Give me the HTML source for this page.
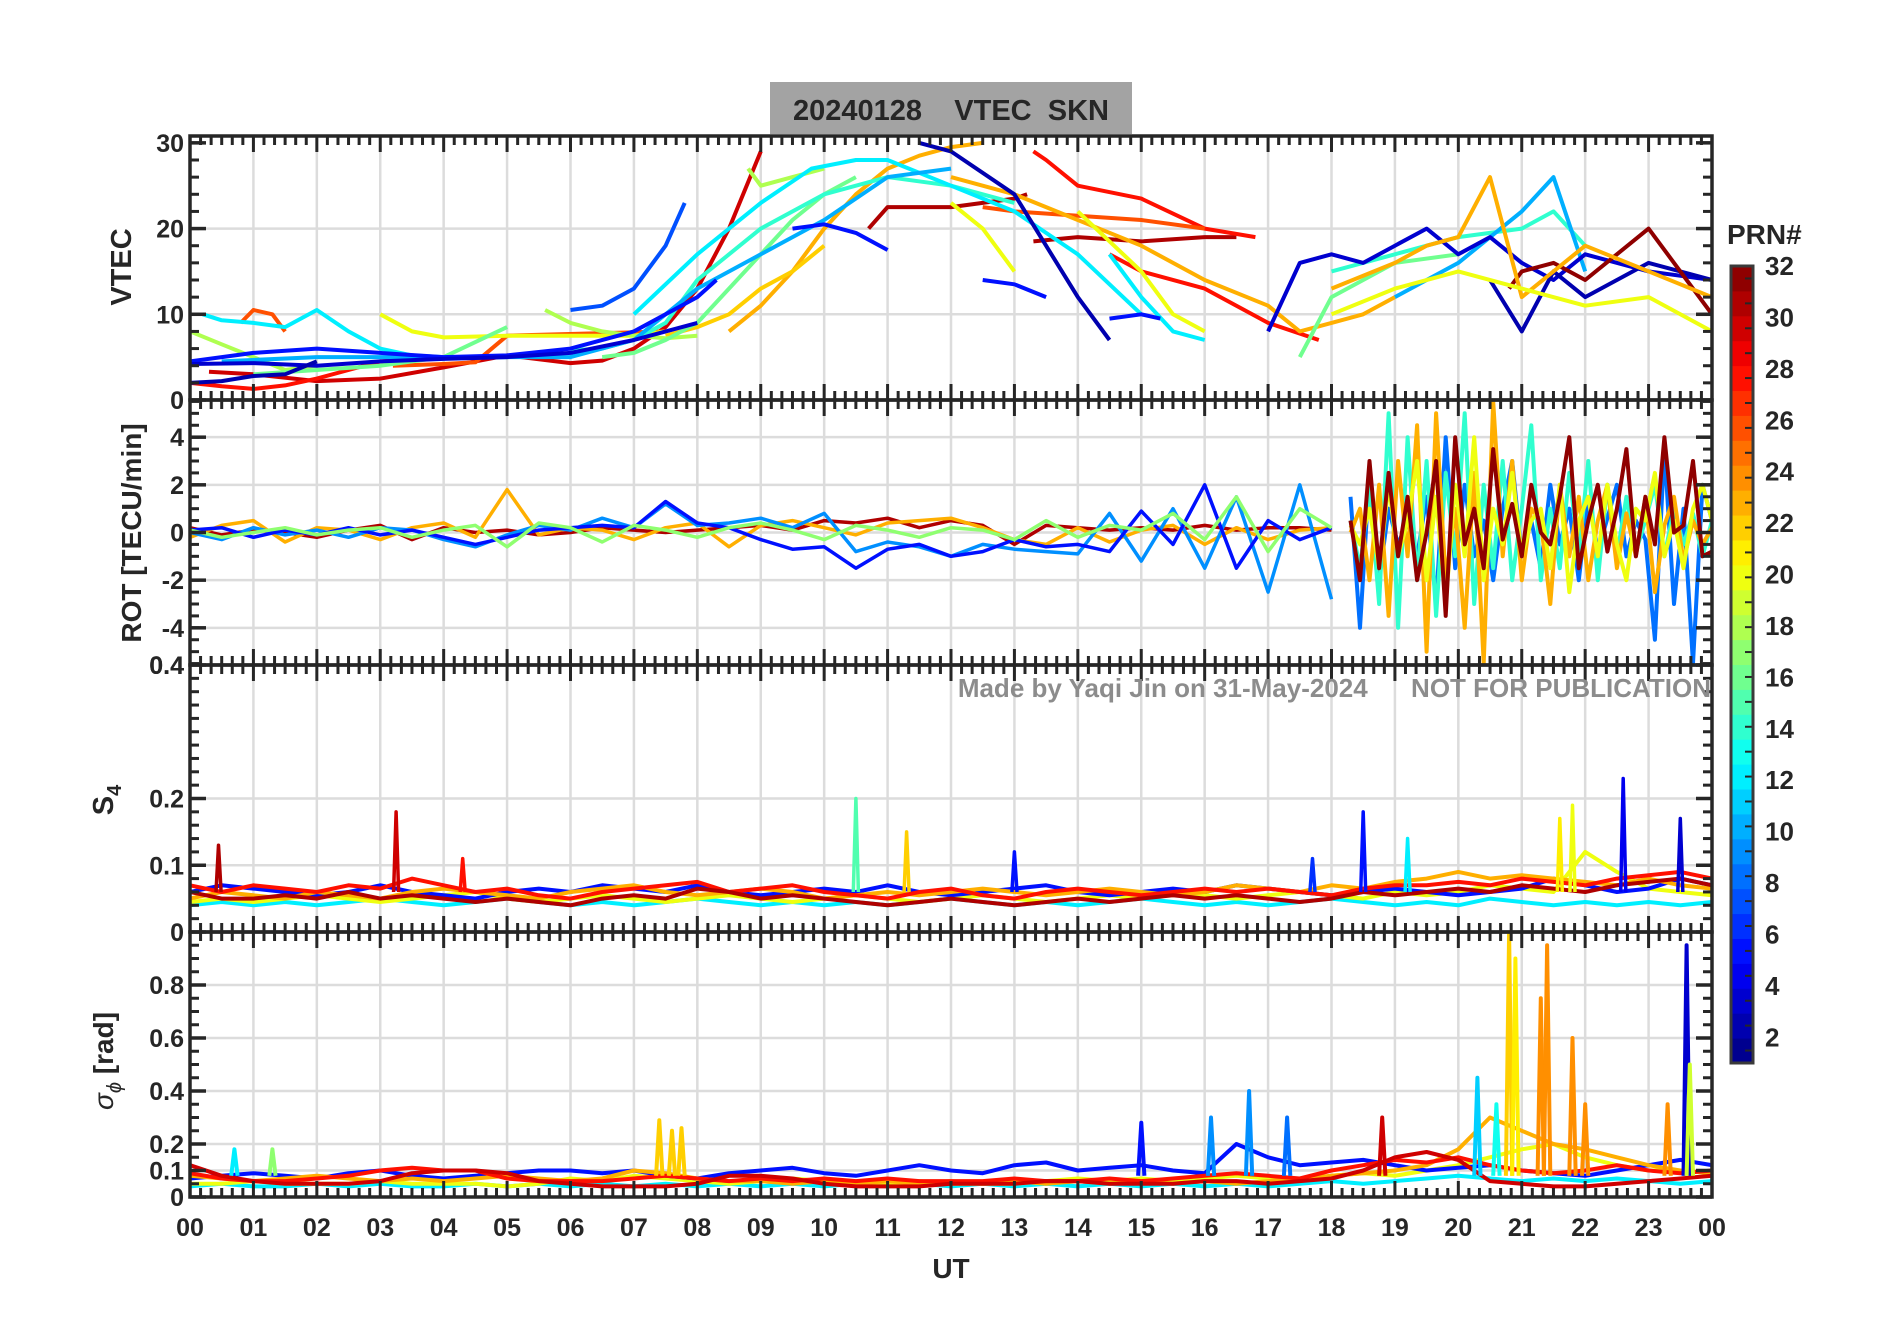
<!DOCTYPE html>
<html><head><meta charset="utf-8"><style>
html,body{margin:0;padding:0;background:#fff;}
svg text{font-family:"Liberation Sans",Arial,sans-serif;font-weight:bold;fill:#262626;}
</style></head><body>
<svg id="fig" xmlns="http://www.w3.org/2000/svg" width="1902" height="1330" viewBox="0 0 1902 1330">
<rect x="0" y="0" width="1902" height="1330" fill="#fff"/>
<rect x="770" y="82" width="362" height="52" fill="#a3a3a3"/>
<text x="951" y="120" font-size="29" text-anchor="middle" xml:space="preserve">20240128    VTEC  SKN</text>
<g id="layer"></g>
<text x="951" y="1278" font-size="28" text-anchor="middle">UT</text>
<text transform="translate(131,267) rotate(-90)" font-size="29" text-anchor="middle">VTEC</text>
<text transform="translate(141,533) rotate(-90)" font-size="28" text-anchor="middle">ROT [TECU/min]</text>
<text transform="translate(113,800) rotate(-90)" font-size="29" text-anchor="middle">S<tspan font-size="20" dy="8">4</tspan></text>
<text transform="translate(113,1061) rotate(-90)" font-size="28" text-anchor="middle"><tspan font-style="italic" font-weight="normal">σ</tspan><tspan font-size="20" dy="8" font-style="italic" font-weight="normal">ϕ</tspan><tspan dy="-8"> [rad]</tspan></text>
<text x="1711" y="697" font-size="26" text-anchor="end" style="fill:#8c8c8c" xml:space="preserve">Made by Yaqi Jin on 31-May-2024      NOT FOR PUBLICATION</text>
<g id="cbar"></g>
<text x="1727" y="244" font-size="28">PRN#</text>
</svg>
<script>
// ---------- data ----------
const hourLabels = ["00","01","02","03","04","05","06","07","08","09","10","11","12","13","14","15","16","17","18","19","20","21","22","23","00"];
const prnTicks = [2,4,6,8,10,12,14,16,18,20,22,24,26,28,30,32];
const vtecPrn = [30,31,31,28,28,28,26,26,26,23,23,22,20,20,20,18,18,18,16,16,16,14,14,12,12,12,10,10,7,5,5,5,5,3,3,2,2,2,32,23,20];
const vtecT = [
 [0.3,1,2,3,4,5,6,6.5,7,7.5,8,8.5,9],
 [10.7,11,12,13,13.2],
 [13.3,14,15,16,16.5],
 [0,0.5,1,1.5,2,2.5,3,3.5],
 [13.3,13.5,14,15,16,16.8],
 [14.5,15,16,17,17.8],
 [0.8,1,1.3,1.5],
 [3.2,4,4.5,5,7.5],
 [12.5,13,14,15,16],
 [8.5,9,9.5,10,10.5,11,11.5,12,12.5],
 [12,13,14,15,16,17,17.5,18,18.5,19],
 [7.5,8,8.5,9,9.5,10],
 [3,3.5,4,5,6,7,7.5],
 [12,12.5,13],
 [14,15,15.5,16],
 [0,0.5,1,1.5,2],
 [5.6,6,6.5,7,7.5,8],
 [8.8,9,9.5,10],
 [1,2,3,4,5],
 [6.5,7,7.5,8,8.5,9,9.5,10,10.5],
 [17.5,18,19,20],
 [6,6.5,7,7.5,8,9,10,11,12,13],
 [18,19,20,21,21.5,22],
 [0.2,0.5,1,1.5,2,2.5,3,3.5,4,5],
 [7,8,9,9.8,10.5,11,12,13,14,15],
 [14.5,15,15.5,16],
 [0.5,2,4,6,7,7.5,8,9,10,11,12],
 [19,20,21,21.5,22],
 [6,6.5,7,7.5,7.8],
 [0,1,2,3,4,5,6,7,7.5,8,8.3],
 [9.5,10,10.5,11],
 [12.5,13,13.5],
 [14.5,15,15.3],
 [0,1,2,3,4,5,6,7,8],
 [17,17.5,18,18.5,19,19.5,20,20.5,21,21.5,22,23,24],
 [0,0.5,1,1.5,2],
 [11.5,12,13,14,14.5],
 [20.5,21,21.5,22,23,24],
 [20.8,21,21.5,22,22.5,23,23.5,24],
 [18,19,19.5,20,20.5,21,22,23,24],
 [18,19,20,21,22,23,24]
];
const vtecV = [
 [3.3,3,2.2,2.5,3.8,5.2,4.3,4.6,6,8.5,13,20,29],
 [20,22.5,22.5,23.5,24],
 [18.5,19,18.5,19,19],
 [2,1.6,1.3,1.7,2.5,3.5,4.5,4.8],
 [29,28,25,23.5,20,19],
 [17,15,13,9,7],
 [9,10.5,10,8],
 [4,4.2,4.4,7.5,8],
 [22.5,22,21.5,21,20],
 [8,11,15,20,24,27,28.5,29.5,30],
 [26,24,21,18,14,11,8,9,10,12],
 [7.5,8.5,10,13,15,18],
 [10,8,7.3,7.5,7.5,7.5,8],
 [23,20,15],
 [22,15,10,8],
 [8,6.5,5,3.5,4],
 [10.5,9,8,7.5,7.2,7.5],
 [27,25,26,27],
 [3,3.5,4,5,8.5],
 [5,5.5,7,9,13,17,21,24,26],
 [5,12,16,17],
 [5.8,6,7,9,14,20,24,26,25,23],
 [15,17,19,20,22,18],
 [10,9.3,9,8.5,10.5,8,6,5.2,5,5],
 [10,17,23,27,28,28,25,22,17,10],
 [17,12,8,7],
 [4.5,5,5,5,7,10,13,17,21,26,27],
 [12,16,22,26,15],
 [10.5,11,13,18,23],
 [4.5,5.5,6,5.5,5,5.2,6,8,10,12,14],
 [20,20.5,19.5,17.5],
 [14,13.5,12],
 [9.5,10,9.5],
 [4.2,4.3,4,4.5,4.8,5,5.5,7,9],
 [8,16,17,16,18,20,17,19,16,14,17,15,14],
 [2,2.2,2.8,3,4.5],
 [30,29,24,12,7],
 [14,8,15,12,16,14],
 [13,15,16,14,17,20,15,10],
 [13,16,18,19,26,12,18,15,12],
 [10,13,15,13,11,12,8]
];
const rotCalmPrn = [31,23,9,5,17];
const rotCalm = [
 [0.2,-0.1,0.1,0,-0.2,0.1,0.3,-0.3,0.2,0,0.1,-0.1,0,0.2,0.1,0,0.1,0.2,0.3,0.1,0.5,0.4,0.6,0.2,0.5,0.3,-0.5,0.3,0.2,0.1,0.2,0.1,0.3,0.1,0.2,0.2,0.1],
 [-0.2,0.3,0.5,-0.4,0.2,0.1,-0.3,0.2,0.4,-0.2,1.8,-0.1,0.2,0.1,-0.3,0.2,0.4,-0.6,0.3,0.5,0.2,-0.1,0.4,0.5,0.6,0.2,-0.3,-0.5,0.2,-0.4,0.1,0.3,-0.5,0.2,-0.3,0.1,0.2],
 [0,-0.3,0.2,-0.1,0.1,-0.2,0.2,0.1,-0.3,-0.6,-0.1,0.3,0.1,0.6,0.2,1.2,0.3,0.4,0.6,0.2,0.8,-0.8,-0.4,-0.6,-1,-0.5,-0.7,-0.8,-0.9,0.8,-1.2,1,-1.5,1.5,-2.5,2,-2.8],
 [0.1,0.2,-0.2,0.1,-0.1,0.2,-0.1,0.1,-0.2,-0.5,-0.2,0.1,0.2,0.3,0.2,1.3,0.4,0.2,-0.3,-0.7,-0.6,-1.5,-0.7,-0.5,-1,-0.8,-0.3,-0.6,-0.5,-0.8,0.9,-0.5,2,-1.5,0.5,-0.3,0.2],
 [0.1,-0.2,0,0.2,-0.1,0.1,0.2,-0.2,0.1,0.3,-0.6,0.4,0.2,-0.4,0.3,0.1,-0.2,0.2,0.4,0.1,-0.3,0.3,0.1,-0.2,0.2,0.1,-0.3,0.5,-0.2,0.3,0.1,0.8,-0.3,1.5,-0.8,1,0.2]
];
const rotStormPrn = [8,14,23,20,32];
const rotStorm = [
 [1.5,-4,2.5,-2,1,-0.5,0.5,-1,1.5,-3,4,-1.5,2,-1,0.5,-2,1,3,-1,0.5,-1.5,2,-0.5,1,-2,1.5,-0.8,0.6,2,-1,0.5,-0.3,-4.5,3.5,-3,1,-5.5,2,0.5],
 [0.5,-1.5,2,-3,5,-4,4,-2,3,-3.5,2.5,-1,5,-3,2,-1.5,3,-2,1,4.5,-2,1,-1.5,2.5,-1,3,-2,2,-1,1.5,-0.8,0.5,2,-1,1,-0.5,0.8,-1,0.5],
 [0,1,-2,2,-3.5,3,-1,4.5,-5,5,-2,1,-4,2.5,-5.5,5.5,-1,3,-2,1,0.5,-3,2,-1,1.5,-2,0.5,2,-1.5,0.8,-1,1.5,-2.5,0.3,1.5,-1.2,0.5,-0.5,0.2],
 [0.3,-0.5,1,-1.5,2,-1,0.5,3,-2,1.5,-3,2,-1,4,-2,1,-0.5,2.5,-1,0.5,1,-1.5,2,-2.5,0.5,1.5,-1,2,-0.5,-2,1,0.5,2.5,-1,0.5,-1.5,1,2,0.5],
 [0.5,-2,3,-1.5,2.5,-1,1.5,-2,0,3,-3.5,4,-0.5,1,-1.5,3.5,-0.3,1.2,-1,2,0,-0.5,1.5,4,-1.5,0.5,2,-0.8,1,3.5,-1,1.5,-0.5,4,0,0.3,3,-1,-0.8]
];
const s4Prn = [31,28,23,5,20,12];
const s4Series = [
 [0.06,0.05,0.05,0.055,0.05,0.06,0.05,0.055,0.05,0.045,0.05,0.045,0.04,0.05,0.055,0.05,0.065,0.06,0.05,0.055,0.05,0.045,0.04,0.045,0.05,0.045,0.04,0.045,0.05,0.045,0.05,0.055,0.05,0.055,0.05,0.045,0.05,0.06,0.055,0.06,0.065,0.06,0.07,0.065,0.06,0.07,0.075,0.08,0.07],
 [0.07,0.06,0.07,0.065,0.06,0.07,0.065,0.08,0.07,0.06,0.065,0.055,0.05,0.06,0.065,0.07,0.075,0.06,0.065,0.07,0.06,0.055,0.05,0.06,0.065,0.055,0.05,0.06,0.065,0.06,0.055,0.06,0.065,0.06,0.065,0.06,0.055,0.065,0.07,0.07,0.075,0.07,0.08,0.075,0.07,0.08,0.085,0.09,0.08],
 [0.05,0.06,0.055,0.05,0.06,0.055,0.05,0.06,0.065,0.06,0.055,0.05,0.06,0.065,0.07,0.06,0.055,0.06,0.065,0.06,0.05,0.055,0.06,0.055,0.06,0.065,0.06,0.055,0.06,0.065,0.06,0.055,0.06,0.07,0.065,0.06,0.07,0.065,0.075,0.08,0.09,0.08,0.085,0.08,0.075,0.07,0.08,0.07,0.065],
 [0.06,0.07,0.065,0.06,0.055,0.06,0.07,0.06,0.055,0.05,0.06,0.065,0.06,0.07,0.065,0.06,0.07,0.06,0.055,0.06,0.065,0.06,0.07,0.06,0.055,0.06,0.065,0.07,0.06,0.055,0.06,0.065,0.06,0.07,0.065,0.06,0.055,0.06,0.065,0.06,0.055,0.06,0.065,0.08,0.07,0.06,0.065,0.08,0.07],
 [0.045,0.05,0.045,0.05,0.055,0.05,0.045,0.05,0.055,0.06,0.05,0.045,0.05,0.055,0.05,0.045,0.05,0.055,0.05,0.045,0.05,0.055,0.05,0.045,0.05,0.055,0.05,0.045,0.05,0.055,0.05,0.06,0.055,0.05,0.055,0.06,0.055,0.05,0.06,0.055,0.06,0.07,0.065,0.06,0.12,0.09,0.065,0.06,0.055],
 [0.04,0.045,0.04,0.045,0.04,0.045,0.05,0.045,0.04,0.045,0.05,0.045,0.04,0.045,0.04,0.045,0.05,0.045,0.04,0.045,0.04,0.045,0.04,0.045,0.05,0.045,0.04,0.045,0.04,0.045,0.05,0.045,0.04,0.045,0.04,0.045,0.05,0.045,0.04,0.045,0.04,0.05,0.045,0.04,0.045,0.04,0.045,0.04,0.045]
];
const s4SpikeT = [0.45,3.25,10.5,11.3,18.5,22.6,21.8,21.6,23.5,13,19.2,17.7,4.3];
const s4SpikeV = [0.13,0.18,0.2,0.15,0.18,0.23,0.19,0.17,0.17,0.12,0.14,0.11,0.11];
const s4SpikePrn = [31,30,15,22,5,4,20,21,3,5,12,6,28];
const sigPrn = [30,28,23,5,20,12];
const sigSeries = [
 [0.12,0.08,0.06,0.05,0.05,0.05,0.06,0.09,0.1,0.1,0.09,0.06,0.05,0.04,0.04,0.04,0.05,0.08,0.08,0.07,0.05,0.04,0.04,0.04,0.05,0.05,0.05,0.06,0.06,0.05,0.05,0.05,0.06,0.06,0.05,0.06,0.07,0.1,0.15,0.17,0.14,0.06,0.05,0.04,0.04,0.05,0.06,0.07,0.08],
 [0.09,0.07,0.06,0.06,0.07,0.08,0.1,0.11,0.1,0.1,0.07,0.06,0.06,0.06,0.07,0.08,0.07,0.06,0.07,0.06,0.07,0.06,0.07,0.06,0.06,0.06,0.07,0.06,0.06,0.07,0.06,0.07,0.08,0.09,0.08,0.07,0.1,0.12,0.14,0.13,0.15,0.12,0.1,0.09,0.1,0.12,0.1,0.09,0.1],
 [0.08,0.07,0.06,0.07,0.08,0.07,0.06,0.07,0.06,0.07,0.08,0.07,0.06,0.07,0.1,0.09,0.07,0.06,0.06,0.05,0.06,0.05,0.06,0.05,0.06,0.05,0.06,0.05,0.06,0.05,0.06,0.05,0.06,0.05,0.06,0.07,0.08,0.09,0.1,0.12,0.18,0.3,0.25,0.2,0.18,0.15,0.12,0.1,0.09],
 [0.07,0.08,0.09,0.08,0.07,0.09,0.1,0.08,0.07,0.08,0.09,0.1,0.1,0.09,0.1,0.08,0.07,0.09,0.1,0.11,0.09,0.08,0.1,0.12,0.1,0.09,0.12,0.13,0.1,0.11,0.12,0.1,0.09,0.2,0.15,0.12,0.13,0.14,0.12,0.1,0.11,0.12,0.1,0.09,0.08,0.1,0.12,0.14,0.12],
 [0.05,0.05,0.06,0.05,0.05,0.05,0.06,0.05,0.05,0.05,0.04,0.05,0.07,0.06,0.08,0.07,0.06,0.05,0.06,0.07,0.06,0.05,0.05,0.06,0.05,0.05,0.05,0.06,0.07,0.06,0.07,0.06,0.07,0.08,0.07,0.06,0.08,0.09,0.08,0.1,0.12,0.15,0.18,0.2,0.15,0.12,0.1,0.1,0.09],
 [0.04,0.05,0.04,0.04,0.05,0.04,0.05,0.04,0.04,0.05,0.04,0.05,0.04,0.05,0.04,0.05,0.04,0.05,0.04,0.05,0.04,0.05,0.04,0.05,0.04,0.05,0.04,0.05,0.04,0.05,0.04,0.05,0.04,0.05,0.04,0.05,0.06,0.05,0.06,0.07,0.08,0.07,0.06,0.07,0.06,0.07,0.06,0.05,0.06]
];
const sigSpikeT = [7.4,7.6,7.75,20.8,20.9,21.3,21.4,21.8,23.6,23.65,15,16.7,16.1,17.3,20.3,20.6,22,18.8,0.7,1.3,23.3];
const sigSpikeV = [0.29,0.25,0.26,1,0.9,0.75,0.95,0.6,0.95,0.5,0.28,0.4,0.3,0.3,0.45,0.35,0.35,0.3,0.18,0.18,0.35];
const sigSpikePrn = [22,22,22,22,21,24,24,24,3,19,5,9,9,8,11,13,24,30,12,17,24];

// ---------- layout ----------
const L = 190, R = 1712;
const panels = [
 {name:"vtec", top:136, bot:400, min:0, max:30.8},
 {name:"rot", top:400, bot:665, min:-5.56, max:5.56},
 {name:"s4", top:665, bot:932, min:0, max:0.4},
 {name:"sigma", top:932, bot:1197, min:0, max:1.0}
];
const X = t => L + t/24*(R-L);
const Y = (p, v) => p.bot - (v-p.min)/(p.max-p.min)*(p.bot-p.top);
function jet(prn){
  const x = (prn-0.5)/32;
  const f = c => Math.max(0, Math.min(1, 1.5 - Math.abs(4*x - c)));
  const r = Math.round(255*f(3)), g = Math.round(255*f(2)), b = Math.round(255*f(1));
  return `rgb(${r},${g},${b})`;
}
const NS = "http://www.w3.org/2000/svg";
const layer = document.getElementById("layer");
function el(tag, attrs, parent){
  const e = document.createElementNS(NS, tag);
  for (const k in attrs) e.setAttribute(k, attrs[k]);
  (parent||layer).appendChild(e);
  return e;
}
const defs = el("defs", {});
panels.forEach((p,i)=>{
  const cp = el("clipPath", {id:"clip"+i}, defs);
  el("rect", {x:L, y:p.top, width:R-L, height:p.bot-p.top}, cp);
});

const gridTicks = [[10,20],[-4,-2,0,2,4],[0.1,0.2],[0.1,0.2,0.4,0.6,0.8]];
panels.forEach((p,i)=>{
  const g = el("g", {});
  
  
  for (let h=1; h<24; h++) el("line", {x1:X(h), x2:X(h), y1:p.top, y2:p.bot, stroke:"#dcdcdc", "stroke-width":2.5}, g);
  gridTicks[i].forEach(v=> el("line", {x1:L, x2:R, y1:Y(p,v), y2:Y(p,v), stroke:"#dcdcdc", "stroke-width":2.5}, g));
});

function poly(p, i, ts, vs, prn, w, nm){
  const pts = ts.map((t,k)=>X(t).toFixed(1)+","+Y(p,vs[k]).toFixed(1)).join(" ");
  const e = el("polyline", {points:pts, fill:"none", stroke:jet(prn), "stroke-width":w, "stroke-linejoin":"round", "clip-path":`url(#clip${i})`});
  
  
}
vtecT.forEach((ts,k)=> poly(panels[0],0,ts,vtecV[k],vtecPrn[k],4,'vtec-track-prn'+vtecPrn[k]));
rotCalm.forEach((vs,k)=> poly(panels[1],1,vs.map((v,j)=>j*0.5),vs,rotCalmPrn[k],3.5,'rot-series-prn'+rotCalmPrn[k]));
rotStorm.forEach((vs,k)=> poly(panels[1],1,vs.map((v,j)=>18.3+j*0.15),vs,rotStormPrn[k],4,'rot-series-prn'+rotStormPrn[k]));
s4Series.slice().reverse().forEach((vs,kk)=>{const k=s4Series.length-1-kk; poly(panels[2],2,vs.map((v,j)=>j*0.5),vs,s4Prn[k],4,'s4-series-prn'+s4Prn[k]);});
s4SpikeT.forEach((t,k)=> poly(panels[2],2,[t-0.04,t,t+0.04],[0.06,s4SpikeV[k],0.06],s4SpikePrn[k],3.5,'s4-spike-prn'+s4SpikePrn[k]));
sigSeries.slice().reverse().forEach((vs,kk)=>{const k=sigSeries.length-1-kk; poly(panels[3],3,vs.map((v,j)=>j*0.5),vs,sigPrn[k],4,'sigma-series-prn'+sigPrn[k]);});
sigSpikeT.forEach((t,k)=> poly(panels[3],3,[t-0.05,t,t+0.05],[0.08,sigSpikeV[k],0.08],sigSpikePrn[k],4,'sigma-spike-prn'+sigSpikePrn[k]));

const yMajor = [[0,10,20,30],[-4,-2,0,2,4],[0,0.1,0.2,0.4],[0,0.1,0.2,0.4,0.6,0.8]];
const yLabels = [["0","10","20","30"],["-4","-2","0","2","4"],["0","0.1","0.2","0.4"],["0","0.1","0.2","0.4","0.6","0.8"]];
const yMinorStep = [2,0.5,0.02,0.05];
panels.forEach((p,i)=>{
  const g = el("g", {});
  
  
  const c = "#262626";
  for (let m=0; m<=24*6; m++){
    const x = X(m/6), len = (m%6===0)?16:9;
    el("line",{x1:x,x2:x,y1:p.bot,y2:p.bot-len,stroke:c,"stroke-width":3},g);
    el("line",{x1:x,x2:x,y1:p.top,y2:p.top+len,stroke:c,"stroke-width":3},g);
  }
  const st = yMinorStep[i];
  for (let v=Math.ceil(p.min/st)*st; v<=p.max+1e-9; v+=st){
    const y = Y(p,v);
    el("line",{x1:L,x2:L+9,y1:y,y2:y,stroke:c,"stroke-width":3},g);
    el("line",{x1:R,x2:R-9,y1:y,y2:y,stroke:c,"stroke-width":3},g);
  }
  yMajor[i].forEach((v,k)=>{
    const y = Y(p,v);
    el("line",{x1:L,x2:L+16,y1:y,y2:y,stroke:c,"stroke-width":3.5},g);
    el("line",{x1:R,x2:R-16,y1:y,y2:y,stroke:c,"stroke-width":3.5},g);
    const t = el("text",{x:L-6,y:y+9,"font-size":25,"text-anchor":"end"},g);
    t.textContent = yLabels[i][k];
  });
  if (i===2){ const t = el("text",{x:L-6,y:p.top+9,"font-size":25,"text-anchor":"end"},g); t.textContent="0.4"; }
  el("rect",{x:L,y:p.top,width:R-L,height:p.bot-p.top,fill:"none",stroke:c,"stroke-width":3.5},g);
});
hourLabels.forEach((s,h)=>{
  const t = el("text",{x:X(h),y:1236,"font-size":25,"text-anchor":"middle"});
  
  
  t.textContent = s;
});

// colorbar
(function(){
  const g = document.getElementById("cbar");
  const top = 266, bot = 1063, x0 = 1731, w = 22;
  const h = (bot-top)/32;
  for (let k=1;k<=32;k++){
    el("rect",{x:x0,y:bot-k*h,width:w,height:h+0.5,fill:jet(k)},g);
  }
  for (let k=1;k<=32;k++){
    const y = bot-k*h+h/2;
    el("line",{x1:x0+w-8,x2:x0+w,y1:y,y2:y,stroke:"#262626","stroke-width":2},g);
  }
  el("rect",{x:x0,y:top,width:w,height:bot-top,fill:"none",stroke:"#3a3a3a","stroke-width":3},g);
  prnTicks.forEach(v=>{
    const y = bot-(v-1)/31*(bot-top);
    const t = el("text",{x:x0+w+12,y:y+9,"font-size":26},g);
    
    
    t.textContent = v;
  });
})();
</script>
</body></html>
